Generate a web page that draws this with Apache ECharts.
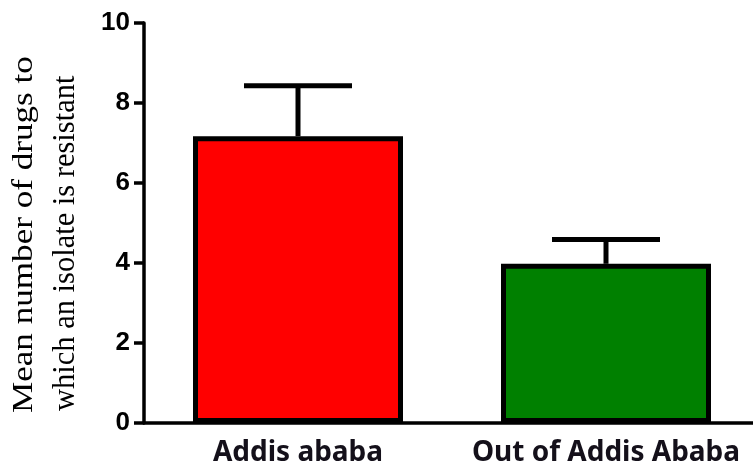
<!DOCTYPE html>
<html>
<head>
<meta charset="utf-8">
<script src="https://cdn.jsdelivr.net/npm/echarts@6/dist/echarts.min.js"></script>
<style>
  html, body { margin: 0; padding: 0; background: #fff; }
  #chart { width: 753px; height: 468px; }
</style>
</head>
<body>
<div id="chart"></div>
<script>
// Mean number of drugs each isolate resists, by origin
const categories = ['Addis ababa', 'Out of Addis Ababa'];
const means = [7.17, 3.98];
const errors = [1.26, 0.61];
const barColors = ['#ff0000', '#008000'];
const yTicks = [0, 2, 4, 6, 8, 10];
const titleLines = ['Mean number of drugs to', 'which an isolate is resistant'];

const chart = echarts.init(document.getElementById('chart'), null, { renderer: 'canvas' });

const barData = means.map((v, i) => ({
  value: v,
  itemStyle: { color: barColors[i] }
}));
const errData = means.map((v, i) => [i, v, v + errors[i]]);

chart.setOption({
  animation: false,
  backgroundColor: '#ffffff',
  grid: {
    left: 144, width: 616, top: 23, bottom: 45,
    containLabel: false,
    outerBoundsMode: 'none'
  },
  xAxis: {
    type: 'category',
    data: categories,
    axisLine: { lineStyle: { color: '#000', width: 3.5 } },
    axisTick: { alignWithLabel: true, length: 12, lineStyle: { color: '#000', width: 3.5 } },
    axisLabel: {
      interval: 0,
      margin: 15,
      color: '#14101a',
      fontFamily: 'Noto Sans',
      fontWeight: 'bold',
      fontSize: 28,
      lineHeight: 30
    },
    splitLine: { show: false }
  },
  yAxis: {
    type: 'value',
    min: yTicks[0],
    max: yTicks[yTicks.length - 1],
    interval: 2,
    axisLine: { show: true, lineStyle: { color: '#000', width: 3.5 } },
    axisTick: { show: true, length: 10, lineStyle: { color: '#000', width: 3.5 } },
    axisLabel: {
      margin: 14,
      color: '#000',
      fontFamily: 'Liberation Sans',
      fontWeight: 'bold',
      fontSize: 26
    },
    splitLine: { show: false }
  },
  graphic: [
    {
      type: 'text',
      x: 9,
      y: 413,
      rotation: Math.PI / 2,
      scaleX: 1.17,
      style: {
        text: titleLines[0],
        font: '30px "Liberation Serif"',
        fill: '#000',
        textAlign: 'left',
        textVerticalAlign: 'top'
      }
    },
    {
      type: 'text',
      x: 50,
      y: 411,
      rotation: Math.PI / 2,
      style: {
        text: titleLines[1],
        font: '30.5px "Liberation Serif"',
        fill: '#000',
        textAlign: 'left',
        textVerticalAlign: 'top'
      }
    }
  ],
  series: [
    {
      type: 'bar',
      data: barData,
      barWidth: 210,
      itemStyle: { borderColor: '#000', borderWidth: 5 },
      z: 2
    },
    {
      type: 'custom',
      data: errData,
      z: 3,
      renderItem: function (params, api) {
        const base = api.coord([api.value(0), api.value(1)]);
        const top = api.coord([api.value(0), api.value(2)]);
        const half = 54;
        const style = { stroke: '#000', lineWidth: 5, fill: null };
        return {
          type: 'group',
          children: [
            { type: 'line', shape: { x1: base[0], y1: base[1], x2: top[0], y2: top[1] }, style: style },
            { type: 'line', shape: { x1: top[0] - half, y1: top[1], x2: top[0] + half, y2: top[1] }, style: style }
          ]
        };
      }
    }
  ]
});
</script>
</body>
</html>
